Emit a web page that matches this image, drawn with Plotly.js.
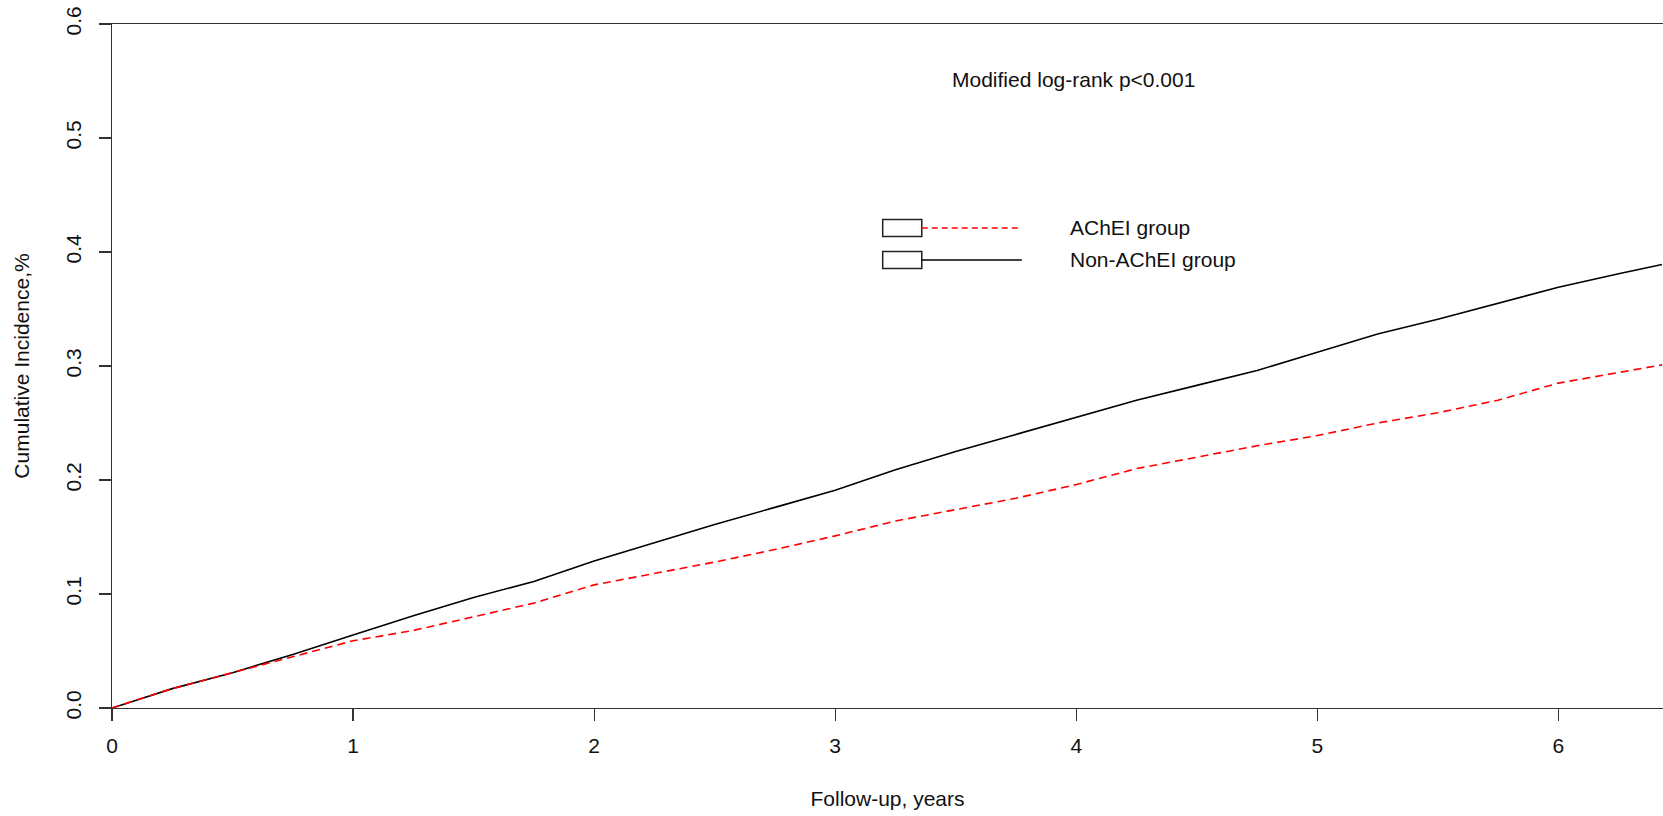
<!DOCTYPE html>
<html>
<head>
<meta charset="utf-8">
<script src="https://cdn.plot.ly/plotly-3.0.1.min.js"></script>
<style>
html,body{margin:0;padding:0;background:#fff;}
#chart{width:1663px;height:816px;}
</style>
</head>
<body>
<div id="chart"></div>
<script>
// Follow-up time (years)
var years = [0, 0.25, 0.5, 0.75, 1.0, 1.25, 1.5, 1.75, 2.0, 2.25, 2.5, 2.75, 3.0, 3.25, 3.5, 3.75, 4.0, 4.25, 4.5, 4.75, 5.0, 5.25, 5.5, 5.75, 6.0, 6.25, 6.43];
// Cumulative incidence, Non-AChEI group (solid black)
var nonAchei = [0, 0.017, 0.031, 0.047, 0.064, 0.081, 0.097, 0.111, 0.129, 0.145, 0.161, 0.176, 0.191, 0.209, 0.225, 0.240, 0.255, 0.270, 0.283, 0.296, 0.312, 0.328, 0.341, 0.355, 0.369, 0.381, 0.389];
// Cumulative incidence, AChEI group (dashed red)
var achei = [0, 0.017, 0.031, 0.045, 0.059, 0.068, 0.080, 0.092, 0.108, 0.118, 0.128, 0.139, 0.151, 0.164, 0.174, 0.184, 0.196, 0.210, 0.220, 0.230, 0.239, 0.250, 0.259, 0.270, 0.285, 0.294, 0.301];

var xTicks = [0, 1, 2, 3, 4, 5, 6];
var xTickLabels = ["0", "1", "2", "3", "4", "5", "6"];
var yTicks = [0, 0.1, 0.2, 0.3, 0.4, 0.5, 0.6];
var yTickLabels = ["0.0", "0.1", "0.2", "0.3", "0.4", "0.5", "0.6"];

var seriesNames = ["AChEI group", "Non-AChEI group"];
var annotationText = "Modified log-rank p<0.001";

var FONT = "Liberation Sans, Arial, sans-serif";
var FS = 21;

var traces = [
  {x: years, y: nonAchei, name: seriesNames[1], type: "scatter", mode: "lines",
   line: {color: "#000000", width: 1.6}, showlegend: false, hoverinfo: "skip"},
  {x: years, y: achei, name: seriesNames[0], type: "scatter", mode: "lines",
   line: {color: "#ff0000", width: 1.6, dash: "8px,5px"}, showlegend: false, hoverinfo: "skip"}
];

// legend geometry (paper coords)
var lg = {boxX0: 0.4969, boxX1: 0.5221, lineX1: 0.5866, textX: 0.6162,
          rows: [{y: 0.7018, h: 0.0124}, {y: 0.655, h: 0.0124}]};

var shapes = [];
var annotations = [];
var lineStyles = [
  {color: "#ff0000", width: 1.4, dash: "6px,4px"},
  {color: "#000000", width: 1.4}
];
for (var i = 0; i < 2; i++) {
  var r = lg.rows[i];
  shapes.push({type: "rect", xref: "paper", yref: "paper",
    x0: lg.boxX0, x1: lg.boxX1, y0: r.y - r.h, y1: r.y + r.h,
    line: {color: "#222", width: 1.5}, fillcolor: "rgba(0,0,0,0)"});
  shapes.push({type: "line", xref: "paper", yref: "paper",
    x0: lg.boxX1, x1: lg.lineX1, y0: r.y, y1: r.y, line: lineStyles[i]});
  annotations.push({xref: "paper", yref: "paper", x: lg.textX, y: r.y,
    xanchor: "left", yanchor: "middle", showarrow: false, text: seriesNames[i],
    font: {family: FONT, size: FS, color: "#111"}});
}
annotations.push({xref: "paper", yref: "paper", x: 0.6201, y: 0.9189,
  xanchor: "center", yanchor: "middle", showarrow: false, text: annotationText,
  font: {family: FONT, size: FS, color: "#111"}});

var layout = {
  width: 1663, height: 816,
  margin: {l: 112, r: 0, t: 24, b: 108},
  paper_bgcolor: "#ffffff", plot_bgcolor: "#ffffff",
  font: {family: FONT, size: FS, color: "#111"},
  xaxis: {
    range: [0, 6.434], tickvals: xTicks, ticktext: xTickLabels,
    showgrid: false, zeroline: false, showline: true, linecolor: "#333", linewidth: 1.3,
    mirror: true, ticks: "outside", ticklen: 12, tickwidth: 1.2, tickcolor: "#333",
    ticklabelstandoff: 6,
    tickfont: {family: FONT, size: FS, color: "#111"},
    title: {text: "Follow-up, years", font: {family: FONT, size: FS, color: "#111"}, standoff: 35}
  },
  yaxis: {
    range: [0, 0.6], tickvals: yTicks, ticktext: yTickLabels, tickangle: -90,
    showgrid: false, zeroline: false, showline: true, linecolor: "#333", linewidth: 1.3,
    ticks: "outside", ticklen: 12, tickwidth: 1.2, tickcolor: "#333",
    ticklabelstandoff: 9,
    tickfont: {family: FONT, size: FS, color: "#111"},
    title: {text: "Cumulative Incidence,%", font: {family: FONT, size: FS, color: "#111"}, standoff: 27}
  },
  shapes: shapes,
  annotations: annotations
};

Plotly.newPlot("chart", traces, layout, {displayModeBar: false, staticPlot: true});
</script>
</body>
</html>
